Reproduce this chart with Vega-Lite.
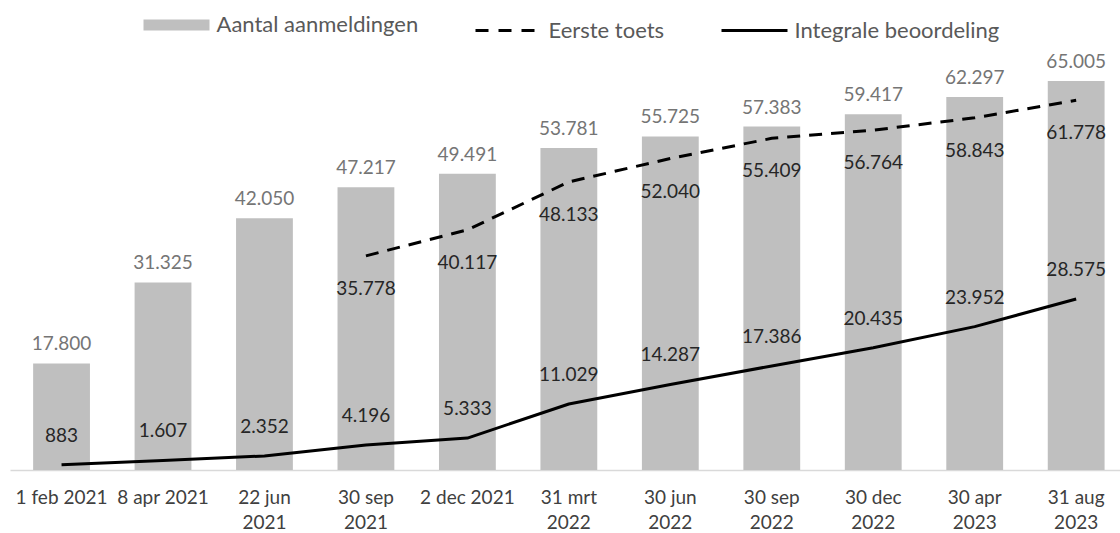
{
  "$schema": "https://vega.github.io/schema/vega-lite/v6.json",
  "width": 1110,
  "height": 419,
  "autosize": {"type": "none"},
  "padding": {"left": 10, "right": 0, "top": 51, "bottom": 63},
  "background": "white",
  "config": {
    "view": {"stroke": null},
    "font": "Lato",
    "locale": {"number": {"decimal": ",", "thousands": ".", "grouping": [3], "currency": ["€", ""]}},
    "legend": {
      "orient": "none",
      "legendX": 131,
      "legendY": -37,
      "direction": "horizontal",
      "symbolType": "stroke",
      "symbolSize": 4356,
      "symbolStrokeWidth": 3,
      "symbolOffset": 24.5,
      "labelFont": "Lato",
      "labelFontSize": 22,
      "labelColor": "#595959",
      "labelLimit": 400,
      "labelOffset": 29,
      "columnPadding": 50
    }
  },
  "data": {
    "values": [
      {"datum": "1 feb 2021", "aanmeldingen": 17800, "eerste": null, "integrale": 883},
      {"datum": "8 apr 2021", "aanmeldingen": 31325, "eerste": null, "integrale": 1607},
      {"datum": "22 jun 2021", "aanmeldingen": 42050, "eerste": null, "integrale": 2352},
      {"datum": "30 sep 2021", "aanmeldingen": 47217, "eerste": 35778, "integrale": 4196},
      {"datum": "2 dec 2021", "aanmeldingen": 49491, "eerste": 40117, "integrale": 5333},
      {"datum": "31 mrt 2022", "aanmeldingen": 53781, "eerste": 48133, "integrale": 11029},
      {"datum": "30 jun 2022", "aanmeldingen": 55725, "eerste": 52040, "integrale": 14287},
      {"datum": "30 sep 2022", "aanmeldingen": 57383, "eerste": 55409, "integrale": 17386},
      {"datum": "30 dec 2022", "aanmeldingen": 59417, "eerste": 56764, "integrale": 20435},
      {"datum": "30 apr 2023", "aanmeldingen": 62297, "eerste": 58843, "integrale": 23952},
      {"datum": "31 aug 2023", "aanmeldingen": 65005, "eerste": 61778, "integrale": 28575}
    ]
  },
  "encoding": {
    "x": {
      "field": "datum",
      "type": "nominal",
      "sort": null,
      "title": null,
      "scale": {"paddingInner": 0.44, "paddingOuter": 0.19, "align": 0.6},
      "axis": {
        "domainColor": "#d9d9d9",
        "domainWidth": 1.5,
        "ticks": false,
        "labelAngle": 0,
        "labelFont": "Lato",
        "labelFontSize": 19,
        "labelColor": "#404040",
        "labelPadding": 18,
        "labelLineHeight": 25,
        "labelOverlap": false,
        "labelBound": false,
        "labelExpr": "indexof(['1 feb 2021','8 apr 2021','2 dec 2021'], datum.value) >= 0 ? datum.value : [slice(datum.value, 0, -5), slice(datum.value, -4)]"
      }
    }
  },
  "layer": [
    {
      "mark": {"type": "bar"},
      "encoding": {
        "y": {"field": "aanmeldingen", "type": "quantitative", "scale": {"domain": [0, 70000], "nice": false}, "axis": null},
        "color": {
          "datum": "Aantal aanmeldingen",
          "type": "nominal",
          "scale": {"domain": ["Aantal aanmeldingen", "Eerste toets", "Integrale beoordeling"], "range": ["#bfbfbf", "#000000", "#000000"]},
          "legend": {
            "title": null,
            "encode": {
              "symbols": {
                "update": {
                  "fill": {"value": "transparent"},
                  "strokeWidth": {"signal": "datum.value === 'Aantal aanmeldingen' ? 11 : 3"},
                  "stroke": {"signal": "datum.value === 'Aantal aanmeldingen' ? '#bfbfbf' : '#000000'"},
                  "strokeDash": {"signal": "datum.value === 'Eerste toets' ? [13, 10] : [1, 0]"}
                }
              }
            }
          }
        }
      }
    },
    {
      "mark": {"type": "text", "baseline": "alphabetic", "dy": -13, "fontSize": 19, "font": "Lato", "color": "#757575"},
      "encoding": {
        "y": {"field": "aanmeldingen", "type": "quantitative"},
        "text": {"field": "aanmeldingen", "type": "quantitative", "format": ",d"}
      }
    },
    {
      "transform": [{"filter": "datum.eerste != null"}],
      "mark": {"type": "line", "strokeWidth": 3, "strokeDash": [13, 9], "strokeJoin": "round", "interpolate": "linear"},
      "encoding": {
        "y": {"field": "eerste", "type": "quantitative"},
        "color": {"datum": "Eerste toets", "type": "nominal"}
      }
    },
    {
      "mark": {"type": "line", "strokeWidth": 3, "strokeJoin": "round", "interpolate": "linear"},
      "encoding": {
        "y": {"field": "integrale", "type": "quantitative"},
        "color": {"datum": "Integrale beoordeling", "type": "nominal"}
      }
    },
    {
      "transform": [{"filter": "datum.eerste != null"}],
      "mark": {"type": "text", "baseline": "middle", "dy": 33, "fontSize": 19, "font": "Lato", "color": "#262626"},
      "encoding": {
        "y": {"field": "eerste", "type": "quantitative"},
        "text": {"field": "eerste", "type": "quantitative", "format": ",d"}
      }
    },
    {
      "mark": {"type": "text", "baseline": "middle", "dy": -29, "fontSize": 19, "font": "Lato", "color": "#262626"},
      "encoding": {
        "y": {"field": "integrale", "type": "quantitative"},
        "text": {"field": "integrale", "type": "quantitative", "format": ",d"}
      }
    }
  ]
}
